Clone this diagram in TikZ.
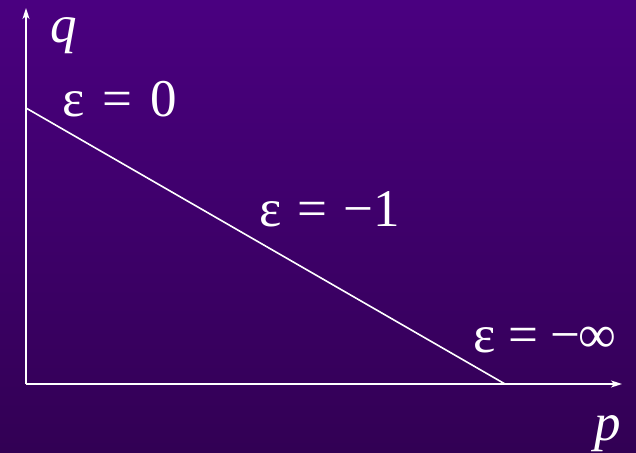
\documentclass[tikz,border=0pt]{standalone}
\usepackage{fontspec}
\setmainfont{Liberation Serif}
\usetikzlibrary{arrows.meta}
\definecolor{bgtop}{RGB}{74,0,128}
\definecolor{bgbot}{RGB}{50,0,84}
\newcommand\gsp{\hspace{0.34em}}
\tikzset{
  axis/.style={white, line width=1.6pt, -{Stealth[length=11pt,width=7pt,inset=3pt]}},
  curve/.style={white, line width=1.6pt},
  lbl/.style={text=white, inner sep=0pt, anchor=base west, font=\fontsize{53}{53}\selectfont},
}
\begin{document}
\begin{tikzpicture}[x=1pt,y=1pt]
\useasboundingbox (0,0) rectangle (636,452);
\shade[top color=bgtop, bottom color=bgbot] (0,0) rectangle (636,452);
\coordinate (O) at (26,68);
\coordinate (ytip) at (26,444);
\coordinate (xtip) at (622,68);
\coordinate (A) at (26,344);
\coordinate (B) at (505,68);
\draw[axis] (O) -- (ytip);
\draw[axis] (O) -- (xtip);
\draw[curve] (A) -- (B);
\node[lbl] (q) at (50,409) {\itshape q};
\node[lbl] (p) at (594,12) {\itshape p};
\node[lbl] (e0) at (62,335) {ε\gsp=\gsp0};
\node[lbl] (e1) at (259,225) {ε\hspace{0.3em}=\hspace{0.3em}−1};
\node[lbl] (einf) at (473,99) {ε\hspace{0.24em}=\hspace{0.24em}−\kern-0.05em∞};
\end{tikzpicture}
\end{document}
